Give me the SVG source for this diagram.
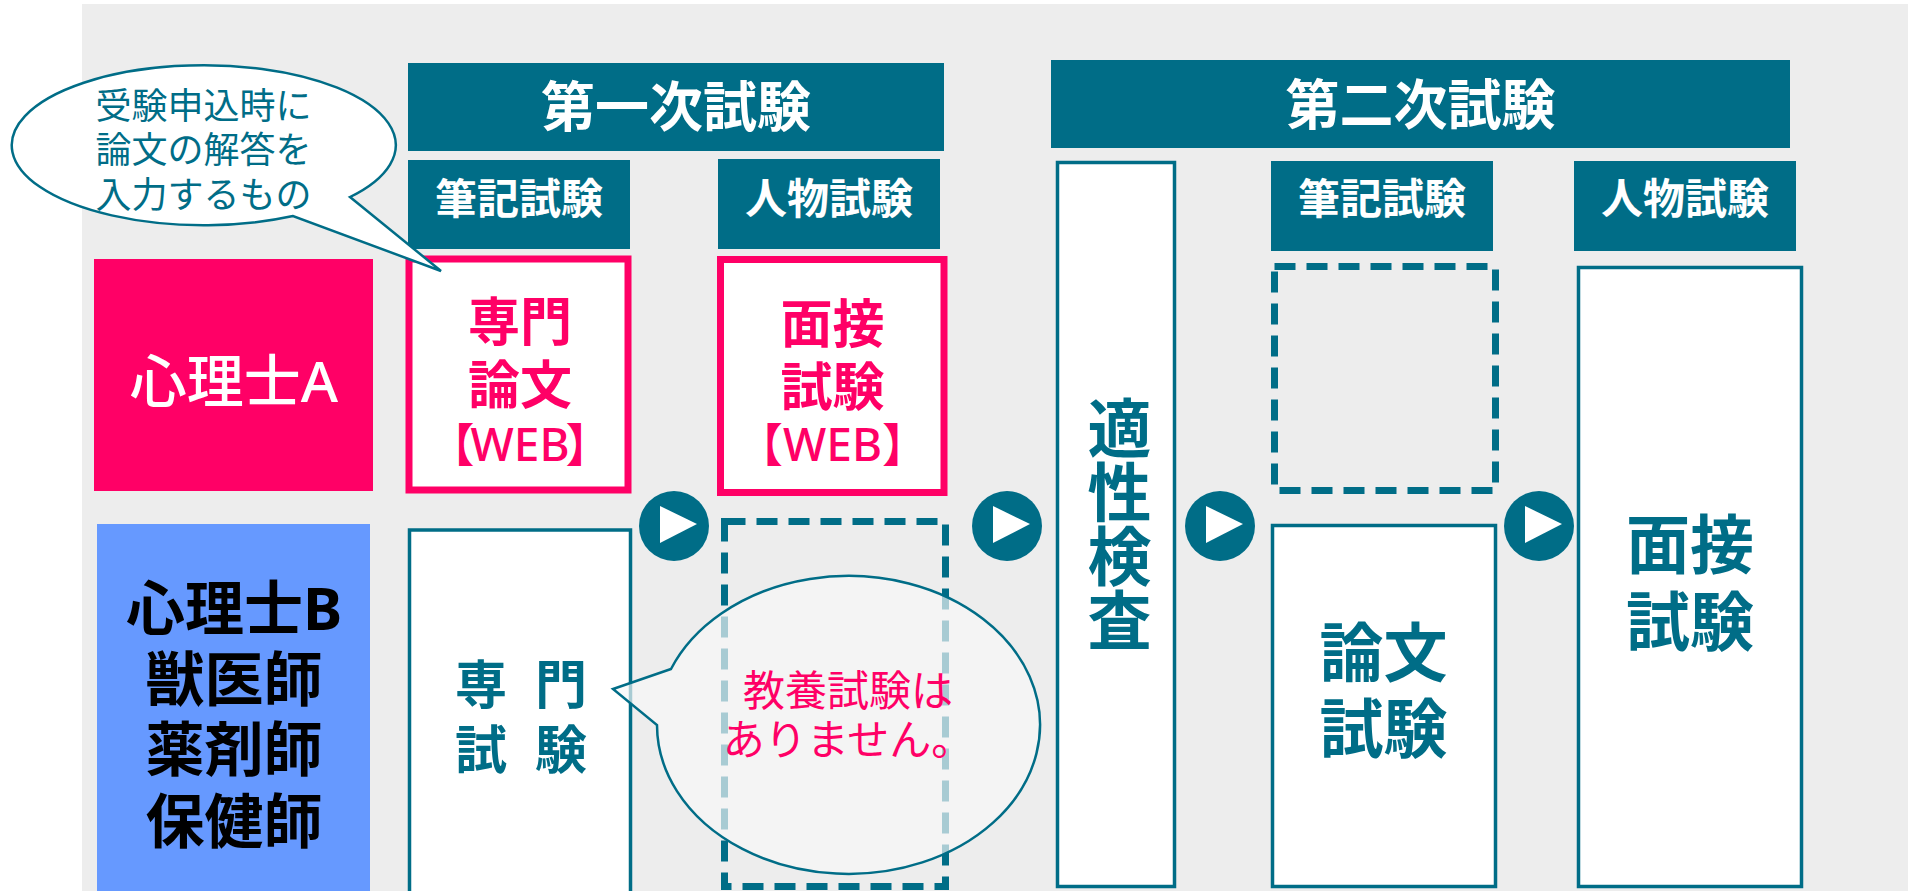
<svg xmlns="http://www.w3.org/2000/svg" xmlns:xlink="http://www.w3.org/1999/xlink" width="1908" height="891" viewBox="0 0 1908 891">
<style>
text{font-family:"Noto Sans","Noto Sans CJK JP",sans-serif;}
.hdr{fill:#006D87;}
.ht{fill:#FFFFFF;font-weight:700;text-anchor:middle;}
.pinkbox{fill:#FFFFFF;stroke:#FF0066;stroke-width:7;}
.pt{fill:#FF0066;font-weight:700;text-anchor:middle;font-size:52px;}
.web{fill:#FF0066;font-weight:500;text-anchor:middle;font-size:46px;}
.tbox{fill:#FFFFFF;stroke:#006D87;stroke-width:3.5;}
.dash{fill:none;stroke:#006D87;stroke-width:7;stroke-dasharray:21 11;}
.tt{fill:#006D87;font-weight:700;text-anchor:middle;font-size:64px;}
.bt{fill:#000000;font-weight:700;text-anchor:middle;font-size:59px;}
</style>
<defs>
<g id="play">
<circle cx="0" cy="0" r="35" fill="#006D87"/>
<polygon points="-14,-20 23,-2 -14,17" fill="#FFFFFF"/>
</g>
</defs>
<rect x="0" y="0" width="1908" height="891" fill="#FFFFFF"/>
<rect x="82" y="4" width="1826" height="887" fill="#EDEDED"/>

<g id="header-first">
<rect class="hdr" x="408" y="63" width="536" height="88"/>
<text class="ht" x="676" y="127" font-size="54">第一次試験</text>
</g>
<g id="header-first-written">
<rect class="hdr" x="408" y="160" width="222" height="89"/>
<text class="ht" x="519" y="214" font-size="42">筆記試験</text>
</g>
<g id="header-first-personal">
<rect class="hdr" x="718" y="159" width="222" height="90"/>
<text class="ht" x="829" y="214" font-size="42">人物試験</text>
</g>
<g id="header-second">
<rect class="hdr" x="1051" y="60" width="739" height="88"/>
<text class="ht" x="1420.5" y="125" font-size="54">第二次試験</text>
</g>
<g id="header-second-written">
<rect class="hdr" x="1271" y="161" width="222" height="90"/>
<text class="ht" x="1382" y="214" font-size="42">筆記試験</text>
</g>
<g id="header-second-personal">
<rect class="hdr" x="1574" y="161" width="222" height="90"/>
<text class="ht" x="1685" y="214" font-size="42">人物試験</text>
</g>

<g id="label-a">
<rect x="94" y="259" width="279" height="232" fill="#FF0066"/>
<text x="234" y="402" fill="#FFFFFF" font-size="57" text-anchor="middle" font-weight="500">心理士A</text>
</g>
<g id="label-b">
<rect x="97" y="524" width="273" height="367" fill="#6699FF"/>
<text class="bt"><tspan x="234" y="629.5">心理士B</tspan><tspan x="234" y="701">獣医師</tspan><tspan x="234" y="770.5">薬剤師</tspan><tspan x="234" y="842.5">保健師</tspan></text>
</g>

<g id="a-senmon-ronbun">
<rect class="pinkbox" x="409" y="259" width="219" height="231"/>
<text class="pt"><tspan x="520" y="341">専門</tspan><tspan x="520" y="404">論文</tspan></text>
<text class="web" x="520" y="461" dx="0 -4 0 0 -4">【WEB】</text>
</g>
<g id="a-mensetsu">
<rect class="pinkbox" x="720.5" y="259.5" width="223.5" height="233"/>
<text class="pt"><tspan x="832.5" y="343">面接</tspan><tspan x="832.5" y="406">試験</tspan></text>
<text class="web" x="832.5" y="461">【WEB】</text>
</g>

<g id="b-senmon-shiken">
<rect class="tbox" x="409.5" y="530" width="221" height="400"/>
<text fill="#006D87" font-weight="700" font-size="52"><tspan x="455 507 535" y="704">専 門</tspan><tspan x="455 507 535" y="769">試 験</tspan></text>
</g>
<g id="b-kyoyo-none">
<rect class="dash" x="724.5" y="521.5" width="221" height="365"/>
</g>

<g id="tekisei">
<rect class="tbox" x="1057.5" y="162.5" width="117" height="724"/>
<text fill="#006D87" font-weight="700" font-size="64" x="1116" y="396" style="writing-mode:vertical-rl" writing-mode="tb">適性検査</text>
</g>
<g id="second-written-a">
<rect class="dash" x="1274.5" y="266.5" width="221" height="224"/>
</g>
<g id="second-ronbun">
<rect class="tbox" x="1272.5" y="525.5" width="223" height="361"/>
<text class="tt"><tspan x="1383.5" y="675.7">論文</tspan><tspan x="1383.5" y="751.7">試験</tspan></text>
</g>
<g id="second-mensetsu">
<rect class="tbox" x="1578.5" y="267.5" width="223" height="619"/>
<text class="tt"><tspan x="1690" y="567.7">面接</tspan><tspan x="1690" y="644.7">試験</tspan></text>
</g>

<g id="connectors">
<use xlink:href="#play" href="#play" x="674" y="526"/>
<use xlink:href="#play" href="#play" x="1007" y="526"/>
<use xlink:href="#play" href="#play" x="1220" y="526"/>
<use xlink:href="#play" href="#play" x="1539" y="526"/>
</g>

<g id="callout-web">
<path d="M350,197 L441,271 L293,216 A192,80 0 1 1 350,197 Z" fill="#FFFFFF" stroke="#006D87" stroke-width="2.5"/>
<text fill="#006D87" font-size="36" text-anchor="middle"><tspan x="203.5" y="118.5">受験申込時に</tspan><tspan x="203.5" y="163">論文の解答を</tspan><tspan x="203.5" y="207.5">入力するもの</tspan></text>
</g>
<g id="callout-kyoyo">
<path d="M671,669 L613,689 L657,725 A191.5,149 0 1 0 671,669 Z" fill="#F8F8F8" fill-opacity="0.68" stroke="#006D87" stroke-width="2.5"/>
<text fill="#FF0066" font-size="42" text-anchor="middle"><tspan x="848" y="705.5">教養試験は</tspan><tspan x="848" y="754.5">ありません。</tspan></text>
</g>
</svg>
